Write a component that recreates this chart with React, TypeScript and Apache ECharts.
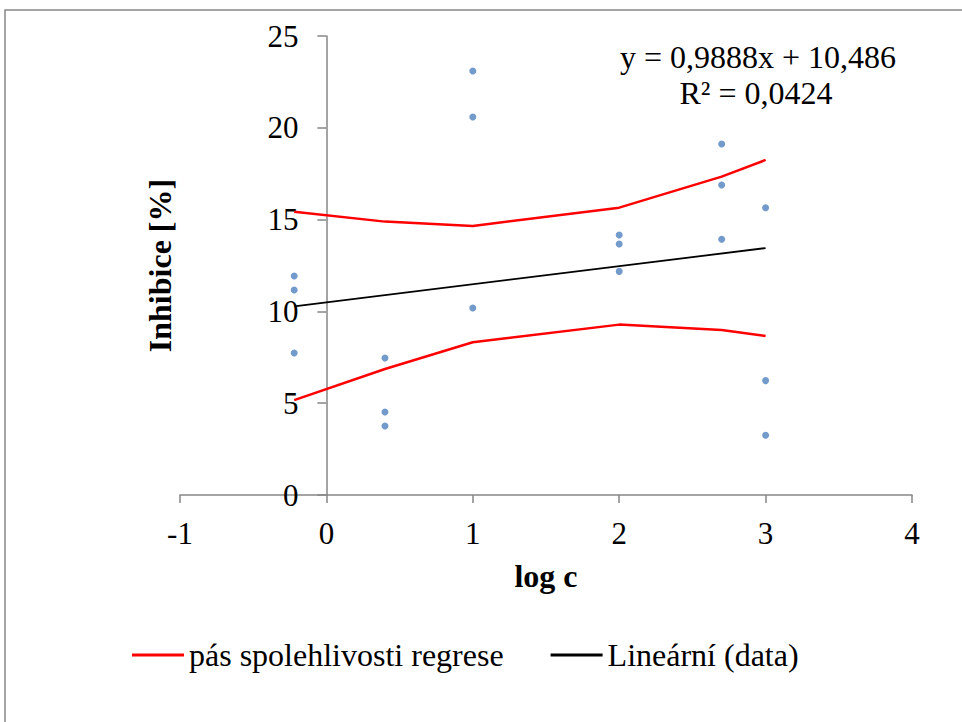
import React, { useEffect, useRef } from "react";
import * as echarts from "echarts";

const xPoints = [-0.22, -0.22, -0.22, 0.4, 0.4, 0.4, 1, 1, 1, 2, 2, 2, 2.7, 2.7, 2.7, 3, 3, 3];
const yPoints = [11.93, 11.17, 7.73, 7.46, 4.52, 3.76, 23.09, 20.59, 10.19, 14.16, 13.67, 12.18, 19.12, 16.88, 13.93, 15.65, 6.23, 3.25];

const bandX = [-0.22, 0.4, 1, 2, 2.7, 3];
const bandUpper = [15.43, 14.89, 14.65, 15.65, 17.34, 18.25];
const bandLower = [5.17, 6.86, 8.32, 9.28, 8.99, 8.66];

const trendX = [-0.22, 3];
const trendY = [10.27, 13.45];

const xTicks = { min: -1, max: 4, interval: 1 };
const yTicks = { min: 0, max: 25, interval: 5 };

const equationLines = ["y = 0,9888x + 10,486", "R² = 0,0424"];
const bandName = "pás spolehlivosti regrese";
const trendName = "Lineární (data)";

const FONT = "Liberation Serif";

export default function App() {
  const ref = useRef<HTMLDivElement>(null);
  useEffect(() => {
    if (!ref.current) return;
    const chart = echarts.init(ref.current, null, { renderer: "svg" });
    const axisColor = "#868686";
    const gridLeft = 180;
    const gridRight = 50;
    const plotWidth = 962 - gridLeft - gridRight;
    const zeroOffset = (plotWidth * (0 - xTicks.min)) / (xTicks.max - xTicks.min);
    chart.setOption({
      animation: false,
      textStyle: { fontFamily: FONT, color: "#000" },
      grid: { left: gridLeft, right: gridRight, top: 36, bottom: 227, outerBoundsMode: "none" },
      xAxis: {
        type: "value",
        min: xTicks.min,
        max: xTicks.max,
        interval: xTicks.interval,
        name: "log c",
        nameLocation: "middle",
        nameGap: 65,
        nameTextStyle: { fontFamily: FONT, fontSize: 32, fontWeight: "bold", color: "#000" },
        axisLine: { show: true, onZero: false, lineStyle: { color: axisColor, width: 1.5 } },
        axisTick: { show: true, length: 8, lineStyle: { color: axisColor, width: 1.5 } },
        axisLabel: { fontFamily: FONT, fontSize: 31, color: "#000", margin: 23 },
        splitLine: { show: false },
      },
      yAxis: {
        type: "value",
        min: yTicks.min,
        max: yTicks.max,
        interval: yTicks.interval,
        offset: -zeroOffset,
        name: "Inhibice [%]",
        nameLocation: "middle",
        nameGap: 150,
        nameRotate: 90,
        nameTextStyle: { fontFamily: FONT, fontSize: 32, fontWeight: "bold", color: "#000" },
        axisLine: { show: true, onZero: false, lineStyle: { color: axisColor, width: 1.5 } },
        axisTick: { show: true, length: 9, lineStyle: { color: axisColor, width: 1.5 } },
        axisLabel: { fontFamily: FONT, fontSize: 31, color: "#000", margin: 28 },
        splitLine: { show: false },
      },
      legend: {
        left: 127,
        top: 634,
        itemWidth: 52,
        itemHeight: 3,
        itemGap: 47,
        icon: "rect",
        textStyle: { fontFamily: FONT, fontSize: 32, color: "#000" },
        data: [bandName, trendName],
      },
      graphic: [
        {
          type: "rect",
          shape: { x: 5, y: 10, width: 1000, height: 800 },
          style: { fill: "none", stroke: "#878787", lineWidth: 1.5 },
          silent: true,
          z: -10,
        },
        {
          type: "text",
          x: 758,
          y: 57,
          style: {
            text: equationLines[0],
            fontFamily: FONT,
            fontSize: 32,
            fill: "#000",
            align: "center",
            verticalAlign: "middle",
          },
        },
        {
          type: "text",
          x: 756,
          y: 93,
          style: {
            text: equationLines[1],
            fontFamily: FONT,
            fontSize: 32,
            fill: "#000",
            align: "center",
            verticalAlign: "middle",
          },
        },
      ],
      series: [
        {
          name: "data",
          type: "scatter",
          symbolSize: 7,
          itemStyle: { color: "#4F81BD" },
          data: xPoints.map((x, i) => [x, yPoints[i]]),
          z: 5,
        },
        {
          name: bandName,
          type: "line",
          symbol: "none",
          lineStyle: { color: "#FF0000", width: 2.5 },
          itemStyle: { color: "#FF0000" },
          data: bandX.map((x, i) => [x, bandUpper[i]]),
        },
        {
          name: bandName,
          type: "line",
          symbol: "none",
          lineStyle: { color: "#FF0000", width: 2.5 },
          itemStyle: { color: "#FF0000" },
          data: bandX.map((x, i) => [x, bandLower[i]]),
        },
        {
          name: trendName,
          type: "line",
          symbol: "none",
          lineStyle: { color: "#000000", width: 1.8 },
          itemStyle: { color: "#000000" },
          data: trendX.map((x, i) => [x, trendY[i]]),
        },
      ],
    });
    return () => chart.dispose();
  }, []);
  return (
    <div
      ref={ref}
      style={{ position: "fixed", left: 0, top: 0, width: 962, height: 722, background: "#fff" }}
    />
  );
}
